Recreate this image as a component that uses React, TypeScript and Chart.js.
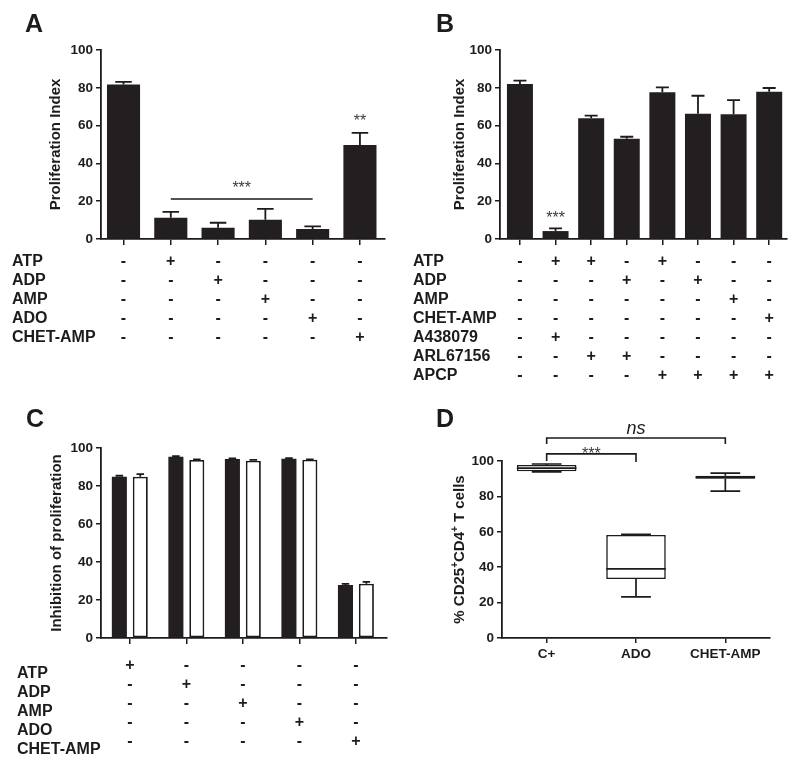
import React, { useEffect, useRef } from 'react';
import { Chart, registerables } from 'chart.js';

Chart.register(...registerables);

const FONT = '"Liberation Sans", Arial, Helvetica, sans-serif';
const INK = '#1d1b1c';
const BAR = '#231f20';
const STAR = '#3a3a3a';

// ---------- Panel A ----------
const aMeans = [81.8, 11.3, 6.0, 10.2, 5.3, 49.7];
const aSem = [1.3, 3.0, 2.6, 5.7, 1.4, 6.4];
const aRowNames = ['ATP', 'ADP', 'AMP', 'ADO', 'CHET-AMP'];
const aRowMarks = ['-+----', '--+---', '---+--', '----+-', '-----+'];
const aSigLine = [1, 4, 21.2];
const aStarX = [2.5, 5];
const aStarY = [29.1, 64.7];
const aStarText = ['***', '**'];

// ---------- Panel B ----------
const bMeans = [82.0, 4.2, 63.9, 53.1, 77.6, 66.3, 66.0, 77.9];
const bSem = [1.8, 1.4, 1.4, 1.0, 2.6, 9.5, 7.5, 2.0];
const bRowNames = ['ATP', 'ADP', 'AMP', 'CHET-AMP', 'A438079', 'ARL67156', 'APCP'];
const bRowMarks = ['-++-+---', '---+-+--', '------+-', '-------+', '-+------', '--++----', '----++++'];
const bStarX = [1];
const bStarY = [13.2];
const bStarText = ['***'];

// ---------- Panel C ----------
const cBlack = [84.9, 95.4, 94.2, 94.4, 27.9];
const cBlackSem = [0.5, 0.3, 0.3, 0.3, 0.6];
const cWhite = [84.9, 93.7, 93.3, 93.8, 28.6];
const cWhiteSem = [1.3, 0.3, 0.5, 0.2, 0.9];
const cRowNames = ['ATP', 'ADP', 'AMP', 'ADO', 'CHET-AMP'];
const cRowMarks = ['+----', '-+---', '--+--', '---+-', '----+'];

// ---------- Panel D ----------
const dGroups = ['C+', 'ADO', 'CHET-AMP'];
const dMin = [93.8, 23.2, 83.0];
const dQ1 = [94.2, 33.3, 90.0];
const dMedian = [96.0, 39.0, 90.8];
const dQ3 = [97.8, 58.2, 91.7];
const dMax = [98.3, 58.5, 93.2];
// brackets: [fromIndex, toIndex, barLevel, leftDrop, rightDrop]
const dBracketStars = [0, 1, 104.0, 100.0, 99.4];
const dBracketNs = [0, 2, 113.0, 109.6, 109.6];
const dStarsY = 106.2;
const dNsY = 117.8;

const W = 400;
const H = 384;

type Area = { left: number; top: number; right: number; bottom: number };

function axisLook(tickLength = 5) {
  return {
    grid: {
      display: true,
      drawOnChartArea: false,
      drawTicks: true,
      tickLength,
      color: INK,
      lineWidth: 1.5,
      offset: false,
    },
    border: { display: true, color: INK, width: 1.8 },
  };
}

function yAxis(area: Area, title: string | null, titleCenterX: number) {
  return {
    type: 'linear',
    min: 0,
    max: 100,
    afterFit: (s: any) => {
      s.width = area.left;
    },
    ticks: {
      stepSize: 20,
      font: { family: FONT, size: 13.5, weight: 'bold' },
      color: INK,
      padding: 3,
    },
    title: title
      ? {
          display: true,
          text: title,
          font: { family: FONT, size: 15, weight: 'bold' },
          color: INK,
          padding: { top: titleCenterX - 9, bottom: 0 },
        }
      : { display: false },
    ...axisLook(5),
  };
}

function drawLetter(ctx: CanvasRenderingContext2D, text: string, x: number, y: number) {
  ctx.save();
  ctx.font = `bold 25px ${FONT}`;
  ctx.fillStyle = INK;
  ctx.textAlign = 'left';
  ctx.textBaseline = 'alphabetic';
  ctx.fillText(text, x, y);
  ctx.restore();
}

type Series = { values: number[]; errors: number[]; fill: string; border: string; borderWidth: number };
type BarCfg = {
  area: Area;
  xMin: number;
  xMax: number;
  catPct: number;
  barPct: number;
  series: Series[];
  yTitle: string;
  yTitleX: number;
  letter: [string, number, number];
  rows: { names: string[]; marks: string[]; labelX: number; y0: number; gap: number; symDy: number };
  sigLines?: number[][];
  starX?: number[];
  starY?: number[];
  starText?: string[];
};

function buildBarPanel(canvas: HTMLCanvasElement, cfg: BarCfg) {
  const { area } = cfg;
  const xHeight = 8;
  const decor = {
    id: 'decor',
    afterDraw(chart: any) {
      const ctx: CanvasRenderingContext2D = chart.ctx;
      const xs = chart.scales.x;
      const ys = chart.scales.y;
      ctx.save();
      // error bars (upper only)
      cfg.series.forEach((s, di) => {
        const meta = chart.getDatasetMeta(di);
        s.errors.forEach((e, i) => {
          const el = meta.data[i];
          if (!el) return;
          const cx = el.x;
          const w = el.width;
          const y0 = ys.getPixelForValue(s.values[i]);
          const y1 = ys.getPixelForValue(s.values[i] + e);
          ctx.strokeStyle = INK;
          ctx.lineWidth = 1.8;
          ctx.beginPath();
          ctx.moveTo(cx, y0);
          ctx.lineTo(cx, y1);
          ctx.moveTo(cx - w * 0.25, y1);
          ctx.lineTo(cx + w * 0.25, y1);
          ctx.stroke();
        });
      });
      // significance lines
      (cfg.sigLines || []).forEach((l) => {
        const y = ys.getPixelForValue(l[2]);
        ctx.strokeStyle = INK;
        ctx.lineWidth = 1.5;
        ctx.beginPath();
        ctx.moveTo(xs.getPixelForValue(l[0]), y);
        ctx.lineTo(xs.getPixelForValue(l[1]), y);
        ctx.stroke();
      });
      // stars
      (cfg.starText || []).forEach((t, i) => {
        ctx.font = `16px ${FONT}`;
        ctx.fillStyle = STAR;
        ctx.textAlign = 'center';
        ctx.textBaseline = 'alphabetic';
        ctx.fillText(t, xs.getPixelForValue(cfg.starX![i]), ys.getPixelForValue(cfg.starY![i]) + 9.3);
      });
      // condition rows
      const r = cfg.rows;
      ctx.font = `bold 16px ${FONT}`;
      ctx.fillStyle = INK;
      ctx.textBaseline = 'middle';
      r.names.forEach((name, ri) => {
        const y = r.y0 + ri * r.gap;
        ctx.textAlign = 'left';
        ctx.fillText(name, r.labelX, y);
        ctx.textAlign = 'center';
        const m = r.marks[ri];
        for (let i = 0; i < m.length; i++) {
          ctx.fillText(m[i], xs.getPixelForValue(i), y + r.symDy);
        }
      });
      ctx.restore();
      drawLetter(ctx, cfg.letter[0], cfg.letter[1], cfg.letter[2]);
    },
  };

  return new Chart(canvas, {
    type: 'bar',
    data: {
      datasets: cfg.series.map((s) => ({
        data: s.values.map((v, i) => ({ x: i, y: v })),
        backgroundColor: s.fill,
        borderColor: s.border,
        borderWidth: s.borderWidth,
        borderSkipped: false,
        categoryPercentage: cfg.catPct,
        barPercentage: cfg.barPct,
      })),
    },
    options: {
      responsive: false,
      animation: false,
      events: [],
      layout: {
        padding: { left: 0, top: area.top, right: W - area.right, bottom: H - area.bottom - xHeight },
      },
      plugins: { legend: { display: false }, tooltip: { enabled: false }, title: { display: false } },
      scales: {
        x: {
          type: 'linear',
          min: cfg.xMin,
          max: cfg.xMax,
          offset: false,
          afterFit: (s: any) => {
            s.height = xHeight;
          },
          ticks: { display: false, stepSize: 1, includeBounds: false },
          ...axisLook(6),
        },
        y: yAxis(area, cfg.yTitle, cfg.yTitleX),
      },
    } as any,
    plugins: [decor],
  });
}

function buildA(canvas: HTMLCanvasElement) {
  return buildBarPanel(canvas, {
    area: { left: 101, top: 50, right: 385, bottom: 239 },
    xMin: -0.476,
    xMax: 5.53,
    catPct: 1,
    barPct: 0.7,
    series: [{ values: aMeans, errors: aSem, fill: BAR, border: BAR, borderWidth: 0 }],
    yTitle: 'Proliferation Index',
    yTitleX: 56,
    letter: ['A', 25, 32],
    rows: { names: aRowNames, marks: aRowMarks, labelX: 12, y0: 262, gap: 18.85, symDy: 0 },
    sigLines: [aSigLine],
    starX: aStarX,
    starY: aStarY,
    starText: aStarText,
  });
}

function buildB(canvas: HTMLCanvasElement) {
  return buildBarPanel(canvas, {
    area: { left: 100, top: 50, right: 387, bottom: 239 },
    xMin: -0.56,
    xMax: 7.5,
    catPct: 1,
    barPct: 0.73,
    series: [{ values: bMeans, errors: bSem, fill: BAR, border: BAR, borderWidth: 0 }],
    yTitle: 'Proliferation Index',
    yTitleX: 60,
    letter: ['B', 36, 32],
    rows: { names: bRowNames, marks: bRowMarks, labelX: 13, y0: 262, gap: 18.9, symDy: 0 },
    starX: bStarX,
    starY: bStarY,
    starText: bStarText,
  });
}

function buildC(canvas: HTMLCanvasElement) {
  return buildBarPanel(canvas, {
    area: { left: 101, top: 64, right: 387, bottom: 254 },
    xMin: -0.51,
    xMax: 4.55,
    catPct: 0.74,
    barPct: 0.72,
    series: [
      { values: cBlack, errors: cBlackSem, fill: BAR, border: BAR, borderWidth: 0 },
      { values: cWhite, errors: cWhiteSem, fill: '#ffffff', border: INK, borderWidth: 1.8 },
    ],
    yTitle: 'Inhibition of proliferation',
    yTitleX: 57,
    letter: ['C', 26, 42.5],
    rows: { names: cRowNames, marks: cRowMarks, labelX: 17, y0: 289.3, gap: 19, symDy: -7.7 },
  });
}

function buildD(canvas: HTMLCanvasElement) {
  const area: Area = { left: 102, top: 77, right: 370, bottom: 254 };
  const xHeight = 30;
  const decor = {
    id: 'decorD',
    afterDraw(chart: any) {
      const ctx: CanvasRenderingContext2D = chart.ctx;
      const xs = chart.scales.x;
      const ys = chart.scales.y;
      const meta = chart.getDatasetMeta(0);
      ctx.save();
      ctx.strokeStyle = INK;
      ctx.lineWidth = 1.7;
      dGroups.forEach((_, i) => {
        const el = meta.data[i];
        const cx = el.x;
        const w = el.width;
        const yMed = ys.getPixelForValue(dMedian[i]);
        const yQ1 = ys.getPixelForValue(dQ1[i]);
        const yQ3 = ys.getPixelForValue(dQ3[i]);
        const yMin = ys.getPixelForValue(dMin[i]);
        const yMax = ys.getPixelForValue(dMax[i]);
        ctx.beginPath();
        ctx.moveTo(cx - w / 2, yMed);
        ctx.lineTo(cx + w / 2, yMed);
        ctx.moveTo(cx, yQ3);
        ctx.lineTo(cx, yMax);
        ctx.moveTo(cx - w * 0.25, yMax);
        ctx.lineTo(cx + w * 0.25, yMax);
        ctx.moveTo(cx, yQ1);
        ctx.lineTo(cx, yMin);
        ctx.moveTo(cx - w * 0.25, yMin);
        ctx.lineTo(cx + w * 0.25, yMin);
        ctx.stroke();
      });
      // brackets
      ctx.lineWidth = 1.6;
      [dBracketStars, dBracketNs].forEach((b) => {
        const x1 = xs.getPixelForValue(b[0]);
        const x2 = xs.getPixelForValue(b[1]);
        const yb = ys.getPixelForValue(b[2]);
        ctx.beginPath();
        ctx.moveTo(x1, ys.getPixelForValue(b[3]));
        ctx.lineTo(x1, yb);
        ctx.lineTo(x2, yb);
        ctx.lineTo(x2, ys.getPixelForValue(b[4]));
        ctx.stroke();
      });
      ctx.fillStyle = STAR;
      ctx.textAlign = 'center';
      ctx.textBaseline = 'alphabetic';
      ctx.font = `16px ${FONT}`;
      ctx.fillText('***', (xs.getPixelForValue(0) + xs.getPixelForValue(1)) / 2, ys.getPixelForValue(dStarsY) + 9.3);
      ctx.fillStyle = INK;
      ctx.font = `italic 18px ${FONT}`;
      ctx.fillText('ns', xs.getPixelForValue(1), ys.getPixelForValue(dNsY) + 4.7);

      // y title with superscripts
      const parts: [string, boolean][] = [
        ['% CD25', false],
        ['+', true],
        ['CD4', false],
        ['+', true],
        [' T cells', false],
      ];
      const mainFont = `bold 15px ${FONT}`;
      const supFont = `bold 10px ${FONT}`;
      let total = 0;
      parts.forEach(([t, sup]) => {
        ctx.font = sup ? supFont : mainFont;
        total += ctx.measureText(t).width;
      });
      ctx.translate(60, (area.top + area.bottom) / 2);
      ctx.rotate(-Math.PI / 2);
      ctx.textAlign = 'left';
      ctx.textBaseline = 'middle';
      ctx.fillStyle = INK;
      let x = -total / 2;
      parts.forEach(([t, sup]) => {
        ctx.font = sup ? supFont : mainFont;
        ctx.fillText(t, x, sup ? -5 : 0);
        x += ctx.measureText(t).width;
      });
      ctx.restore();
      drawLetter(ctx, 'D', 36, 43);
    },
  };

  return new Chart(canvas, {
    type: 'bar',
    data: {
      labels: dGroups,
      datasets: [
        {
          data: dGroups.map((_, i) => [dQ1[i], dQ3[i]]),
          backgroundColor: '#ffffff',
          borderColor: INK,
          borderWidth: 1.6,
          borderSkipped: false,
          categoryPercentage: 1,
          barPercentage: 0.667,
        },
      ],
    },
    options: {
      responsive: false,
      animation: false,
      events: [],
      layout: {
        padding: { left: 0, top: area.top, right: W - area.right, bottom: H - area.bottom - xHeight },
      },
      plugins: { legend: { display: false }, tooltip: { enabled: false } },
      scales: {
        x: {
          type: 'category',
          offset: true,
          afterFit: (s: any) => {
            s.height = xHeight;
          },
          ticks: {
            font: { family: FONT, size: 13.5, weight: 'bold' },
            color: INK,
            padding: 3,
            maxRotation: 0,
          },
          ...axisLook(5),
        },
        y: yAxis(area, null, 0),
      },
    } as any,
    plugins: [decor],
  });
}

function Panel({ left, top, build }: { left: number; top: number; build: (c: HTMLCanvasElement) => Chart }) {
  const ref = useRef<HTMLCanvasElement>(null);
  useEffect(() => {
    const chart = build(ref.current as HTMLCanvasElement);
    return () => chart.destroy();
  }, []);
  return (
    <canvas
      ref={ref}
      width={W}
      height={H}
      style={{ position: 'absolute', left, top, width: W, height: H, display: 'block' }}
    />
  );
}

export default function App() {
  return (
    <div style={{ position: 'absolute', left: 0, top: 0, width: 800, height: 768, background: '#fff', overflow: 'hidden' }}>
      <Panel left={0} top={0} build={buildA} />
      <Panel left={400} top={0} build={buildB} />
      <Panel left={0} top={384} build={buildC} />
      <Panel left={400} top={384} build={buildD} />
    </div>
  );
}
